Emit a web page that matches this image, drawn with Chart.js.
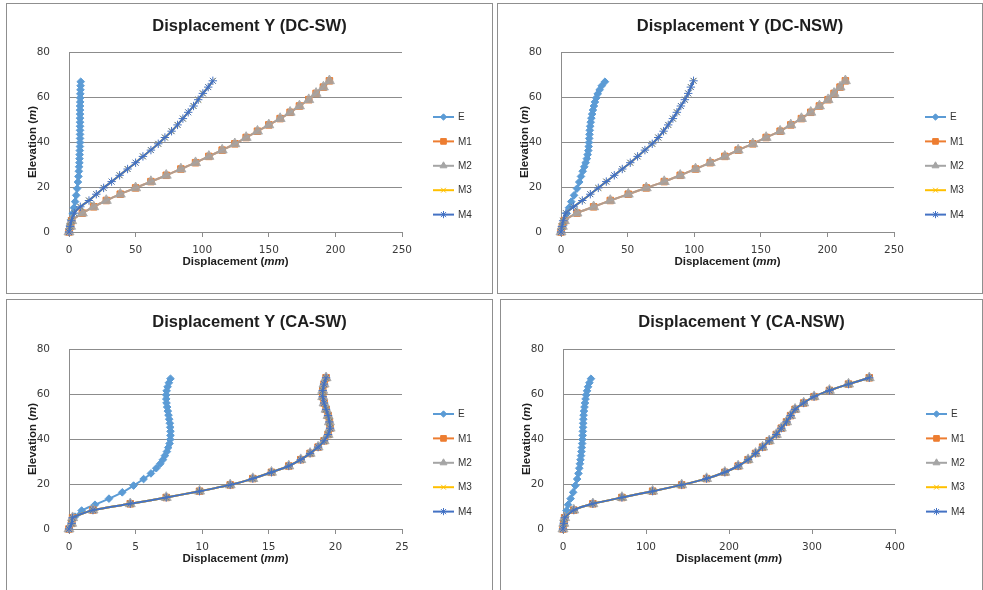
<!DOCTYPE html>
<html>
<head>
<meta charset="utf-8">
<script src="https://cdn.jsdelivr.net/npm/chart.js@4.4.1/dist/chart.umd.min.js"></script>
<style>
  html, body { margin: 0; padding: 0; background: #fff; }
  body { width: 983px; height: 590px; position: relative; overflow: hidden; }
  .frame { position: absolute; border: 1px solid #8f8f8f; box-sizing: border-box; }
  canvas { position: absolute; }
</style>
</head>
<body>
<div class="frame" style="left:6px;top:3px;width:487px;height:291px"></div>
<div class="frame" style="left:497px;top:3px;width:486px;height:291px"></div>
<div class="frame" style="left:6px;top:299px;width:487px;height:300px"></div>
<div class="frame" style="left:500px;top:299px;width:483px;height:300px"></div>
<canvas id="c1" width="485" height="289" style="left:7px;top:4px"></canvas>
<canvas id="c2" width="484" height="289" style="left:498px;top:4px"></canvas>
<canvas id="c3" width="485" height="290" style="left:7px;top:300px"></canvas>
<canvas id="c4" width="481" height="290" style="left:501px;top:300px"></canvas>
<script>
// ── DATA ─────────────────────────────────────────────────────────────────────
const SERIES = ['E', 'M1', 'M2', 'M3', 'M4'];

// elevations (m) of the E model points and of the M model points
const eElev = [0, 1.5, 3, 5.5, 8.2, 10.8, 13.5, 16.3, 19.3, 22.2, 24.7, 27, 29, 30.8, 32.6, 34.4, 36.2,
  38, 39.8, 41.6, 43.4, 45.2, 47, 48.8, 50.6, 52.4, 54.2, 56, 57.8, 59.6, 61.4, 63.2, 65, 66.8];
const mElev = [0, 2.5, 5, 8.4, 11.2, 14, 16.8, 19.6, 22.4, 25.2, 28, 30.8, 33.6, 36.4, 39.2, 42,
  44.8, 47.6, 50.4, 53.2, 56, 58.8, 61.6, 64.4, 67.2];

// DC-SW displacements (mm)
const dcSwE = [0, 0.3, 0.8, 1.6, 2.7, 3.7, 4.6, 5.4, 6.1, 6.7, 7.1, 7.4, 7.6, 7.8, 7.9, 8.0, 8.1,
  8.2, 8.3, 8.3, 8.3, 8.3, 8.3, 8.3, 8.3, 8.3, 8.3, 8.3, 8.4, 8.4, 8.5, 8.6, 8.7, 8.8];
const dcSwM12 = [0, 1.2, 2, 10, 18.5, 28, 38.5, 50, 61.5, 73, 84, 95, 105, 115, 124.5, 133, 141.5,
  150, 158.5, 166, 173, 180, 185.5, 191, 195.5];
const dcSwM34 = [0, 0.8, 1.8, 4, 8.5, 15, 20.5, 26, 32, 38, 44, 50, 55.5, 61.5, 67, 72, 77, 81.5,
  85.5, 89.5, 93.5, 97, 100.5, 104.5, 108];

// DC-NSW displacements (mm)
const dcNswE = [0, 0.8, 1.6, 2.8, 4.3, 6, 7.7, 9.8, 12, 13.7, 15, 16.3, 17.5, 18.5, 19.4, 20, 20.5,
  20.8, 21, 21.2, 21.4, 21.6, 21.9, 22.3, 22.8, 23.4, 24, 24.7, 25.5, 26.5, 27.6, 29, 30.6, 33];
const dcNswM12 = [0, 1, 2.5, 12, 24.5, 37, 50.5, 64, 77.5, 89.5, 101, 112, 123, 133, 144, 154, 164.5,
  172.5, 180.5, 187.5, 194, 200.5, 205, 209.5, 213.5];
const dcNswM34 = [0, 0.7, 1.6, 3.7, 9.5, 16, 22, 28, 34, 40, 46, 52, 57.5, 63, 68.5, 73, 77, 80.5,
  84, 87, 90, 93, 95.5, 97.5, 99.5];

// CA-SW displacements (mm)
const caSwE = [0, 0.1, 0.2, 0.45, 0.95, 1.95, 3, 4, 4.85, 5.6, 6.15, 6.55, 6.85, 7.05, 7.2, 7.35,
  7.45, 7.55, 7.6, 7.62, 7.62, 7.6, 7.57, 7.52, 7.47, 7.42, 7.37, 7.32, 7.3, 7.3, 7.33, 7.4, 7.5, 7.62];
const caSwM = [0, 0.2, 0.27, 1.8, 4.6, 7.3, 9.8, 12.1, 13.8, 15.2, 16.5, 17.4, 18.1, 18.7, 19.15,
  19.45, 19.6, 19.55, 19.45, 19.3, 19.15, 19.05, 19.05, 19.15, 19.3];

// CA-NSW displacements (mm)
const caNswE = [0, 0.5, 1.2, 2.6, 4.3, 6.1, 9.2, 12.2, 14.9, 17, 18.6, 19.6, 20.4, 21.1, 21.7, 22.2,
  22.7, 23.1, 23.4, 23.7, 23.9, 24.1, 24.3, 24.5, 24.8, 25.3, 25.9, 26.5, 27.2, 28, 29, 30.2, 31.8, 33.7];
const caNswM = [0, 1, 2, 13, 36, 71, 108, 143, 173, 195, 211, 223, 232, 240.5, 248.5, 257, 263,
  269.3, 274.2, 279.6, 290, 302.5, 321, 344, 369];

// ── STYLE ────────────────────────────────────────────────────────────────────
const COLORS      = ['#5B9BD5', '#ED7D31', '#A5A5A5', '#FFC000', '#4472C4'];
const DRAW_COLORS = ['#5B9BD5', '#ED7D31', 'rgba(165,165,165,0.82)', '#FFC000', '#4472C4'];
const MARKERS     = ['rectRot', 'rect', 'triangle', 'crossRot', 'star'];
const MARKER_R    = [3.8, 4.6, 5.8, 4, 4.2];
const LEGEND_R    = [3.2, 4, 4, 3.4, 3.6];
const GRID = '#8c8c8c';
const TICK_FONT = { family: '"DejaVu Sans", sans-serif', size: 10.5 };
const LBL = '"Liberation Sans", Arial, sans-serif';

// ── DECOR PLUGIN: title, rich axis titles, Excel-like legend ────────────────
function drawRich(ctx, parts, cx, y) {
  let total = 0;
  parts.forEach(p => { ctx.font = p.font; p.w = ctx.measureText(p.text).width; total += p.w; });
  let x = cx - total / 2;
  ctx.textAlign = 'left';
  parts.forEach(p => { ctx.font = p.font; ctx.fillText(p.text, x, y); x += p.w; });
}

const decor = {
  id: 'decor',
  afterDraw(chart, args, o) {
    const ctx = chart.ctx, a = chart.chartArea;
    ctx.save();
    ctx.fillStyle = '#1e1e1e';
    ctx.textBaseline = 'alphabetic';
    ctx.textAlign = 'center';
    ctx.font = 'bold 16.5px ' + LBL;
    ctx.fillText(o.title, chart.width / 2, 27);

    const b = 'bold 11.5px ' + LBL, bi = 'italic bold 11.5px ' + LBL;
    drawRich(ctx, [{ text: 'Displacement (', font: b }, { text: 'mm', font: bi }, { text: ')', font: b }],
      (a.left + a.right) / 2, a.bottom + 33);

    ctx.save();
    ctx.translate(a.left - 33, (a.top + a.bottom) / 2);
    ctx.rotate(-Math.PI / 2);
    drawRich(ctx, [{ text: 'Elevation (', font: b }, { text: 'm', font: bi }, { text: ')', font: b }], 0, 0);
    ctx.restore();

    // legend
    const lx = a.right + 31, ly = a.top + 65;
    chart.data.datasets.forEach((ds, i) => {
      const y = ly + i * 24.4;
      ctx.strokeStyle = COLORS[i];
      ctx.fillStyle = COLORS[i];
      ctx.lineWidth = 2;
      ctx.beginPath(); ctx.moveTo(lx, y); ctx.lineTo(lx + 21, y); ctx.stroke();
      ctx.lineWidth = 1;
      if (Chart.helpers && Chart.helpers.drawPoint) {
        Chart.helpers.drawPoint(ctx, { pointStyle: MARKERS[i], radius: LEGEND_R[i], rotation: 0, borderWidth: 1 }, lx + 10.5, y);
      }
      ctx.fillStyle = '#333';
      ctx.font = '10px ' + LBL;
      ctx.textAlign = 'left';
      ctx.textBaseline = 'middle';
      ctx.fillText(ds.label, lx + 25, y + 0.5);
    });
    ctx.restore();
  }
};

// ── CHART FACTORY ────────────────────────────────────────────────────────────
function series(i, xs, ys) {
  return {
    label: SERIES[i],
    data: xs.map((x, k) => ({ x, y: ys[k] })),
    showLine: true,
    borderColor: DRAW_COLORS[i],
    backgroundColor: DRAW_COLORS[i],
    borderWidth: 2,
    pointStyle: MARKERS[i],
    pointRadius: MARKER_R[i],
    pointBorderWidth: 1,
    pointBackgroundColor: DRAW_COLORS[i],
    pointBorderColor: DRAW_COLORS[i],
    tension: 0.2,
    order: 4 - i,
    clip: false,
  };
}

function makeChart(id, p) {
  const cv = document.getElementById(id);
  const w = cv.width, h = cv.height, a = p.area;
  return new Chart(cv, {
    type: 'scatter',
    data: {
      datasets: [
        series(0, p.e, eElev),
        series(1, p.m1, mElev),
        series(2, p.m2, mElev),
        series(3, p.m3, mElev),
        series(4, p.m4, mElev),
      ]
    },
    options: {
      responsive: false,
      animation: false,
      events: [],
      layout: { autoPadding: false, padding: { left: 0, top: a.top, right: w - a.right, bottom: h - a.bottom - 30 } },
      plugins: { legend: { display: false }, tooltip: { enabled: false }, decor: { title: p.title } },
      scales: {
        x: {
          type: 'linear', min: 0, max: p.xMax,
          ticks: { stepSize: p.xStep, color: '#3a3a3a', font: TICK_FONT, padding: 7, maxRotation: 0 },
          grid: { drawOnChartArea: false, drawTicks: true, tickLength: 5, color: GRID },
          border: { color: GRID, width: 1 },
          afterFit: s => { s.height = 30; },
        },
        y: {
          type: 'linear', min: 0, max: 80,
          ticks: { stepSize: 20, color: '#3a3a3a', font: TICK_FONT, padding: 19 },
          grid: { color: GRID, drawTicks: false, lineWidth: 1 },
          border: { color: GRID, width: 1 },
          afterFit: s => { s.width = a.left; },
        }
      }
    },
    plugins: [decor]
  });
}

makeChart('c1', { title: 'Displacement Y (DC-SW)', xMax: 250, xStep: 50,
  e: dcSwE, m1: dcSwM12, m2: dcSwM12, m3: dcSwM34, m4: dcSwM34,
  area: { left: 62, right: 395, top: 48, bottom: 228 } });
makeChart('c2', { title: 'Displacement Y (DC-NSW)', xMax: 250, xStep: 50,
  e: dcNswE, m1: dcNswM12, m2: dcNswM12, m3: dcNswM34, m4: dcNswM34,
  area: { left: 63, right: 396, top: 48, bottom: 228 } });
makeChart('c3', { title: 'Displacement Y (CA-SW)', xMax: 25, xStep: 5,
  e: caSwE, m1: caSwM, m2: caSwM, m3: caSwM, m4: caSwM,
  area: { left: 62, right: 395, top: 49, bottom: 229 } });
makeChart('c4', { title: 'Displacement Y (CA-NSW)', xMax: 400, xStep: 100,
  e: caNswE, m1: caNswM, m2: caNswM, m3: caNswM, m4: caNswM,
  area: { left: 62, right: 394, top: 49, bottom: 229 } });
</script>
</body>
</html>
